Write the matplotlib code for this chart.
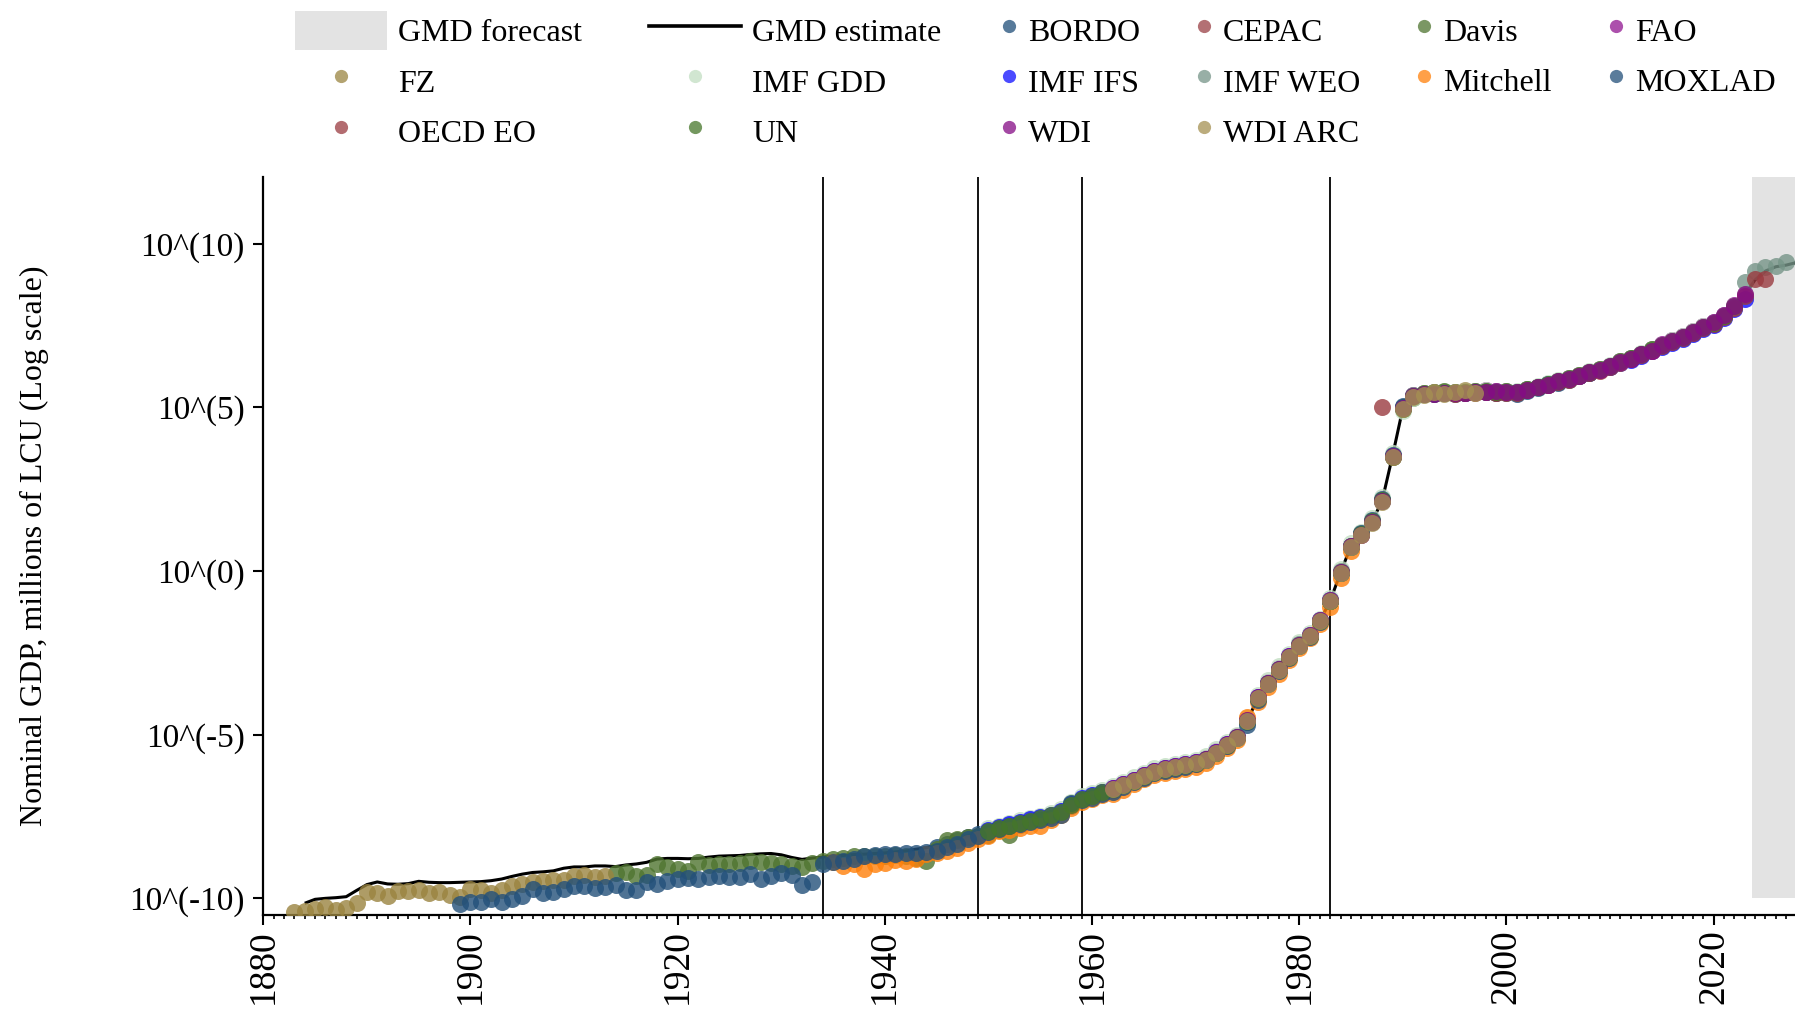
import numpy as np
import matplotlib
matplotlib.use("Agg")
import matplotlib.pyplot as plt
from matplotlib.lines import Line2D
from matplotlib.patches import Patch
from matplotlib.ticker import FixedLocator, MultipleLocator, NullLocator

# ---------------- data (log10 of nominal GDP, millions of LCU) ----------------
gmd_start = 1884
gmd_estimate = [
    -10.15, -10.03, -10.00, -9.98, -9.95, -9.76,
    -9.58, -9.50, -9.56, -9.57, -9.55, -9.48, -9.51, -9.52, -9.52, -9.51,
    -9.50, -9.49, -9.46, -9.41, -9.33, -9.26, -9.21, -9.19, -9.16, -9.08,
    -9.04, -9.04, -9.01, -9.01, -9.03, -8.98, -8.95, -8.90, -8.80, -8.78,
    -8.78, -8.79, -8.78, -8.74, -8.71, -8.70, -8.69, -8.66, -8.64, -8.63,
    -8.67, -8.75, -8.81, -8.77, -8.74, -8.71, -8.69, -8.66, -8.65, -8.63,
    -8.61, -8.58, -8.55, -8.50, -8.45, -8.38, -8.28, -8.18, -8.08, -7.98,
    -7.90, -7.80, -7.73, -7.66, -7.59, -7.52, -7.45, -7.36, -7.15, -6.93,
    -6.84, -6.74, -6.64, -6.52, -6.38, -6.24, -6.12, -6.04, -5.98, -5.92,
    -5.85, -5.74, -5.54, -5.30, -5.07, -4.57, -3.87, -3.42, -3.00, -2.62,
    -2.27, -1.97, -1.52, -0.90, -0.03, 0.77, 1.12, 1.50, 2.15, 3.52,
    4.98, 5.36, 5.42, 5.44, 5.45, 5.45, 5.46, 5.48, 5.49, 5.47,
    5.48, 5.47, 5.55, 5.63, 5.72, 5.80, 5.88, 5.97, 6.07, 6.15,
    6.27, 6.40, 6.50, 6.62, 6.77, 6.90, 7.03, 7.15, 7.30, 7.46,
    7.58, 7.80, 8.08, 8.45, 8.90, 9.17, 9.30, 9.35, 9.43,
]

bordo_start = 1945
bordo = [
    -8.42, -8.33, -8.22, -8.12, -8.02,
    -7.93, -7.84, -7.76, -7.70, -7.62, -7.56, -7.48, -7.36, -7.18, -6.96,
    -6.86, -6.78, -6.68, -6.55, -6.42, -6.28, -6.15, -6.08, -6.01, -5.95,
    -5.88, -5.76, -5.57, -5.33, -5.08, -4.60, -3.88, -3.42, -3.00, -2.62,
    -2.27, -1.97, -1.52, -0.90, -0.03, 0.76, 1.13, 1.52, 2.17, 3.56,
    5.02, 5.33, 5.40, 5.43, 5.44, 5.44,
]

cepac_start = 1950
cepac = [
    -7.93, -7.83, -7.76, -7.68, -7.61, -7.54, -7.45, -7.33, -7.14, -6.95,
    -6.85, -6.75, -6.65, -6.52, -6.38, -6.24, -6.12, -6.04, -5.98, -5.92,
    -5.85, -5.74, -5.54, -5.30, -5.07, -4.57, -3.87, -3.42, -3.00, -2.62,
    -2.27, -1.97, -1.52, -0.90, -0.04, 0.76, 1.11, 1.49, 2.14, 3.50,
    4.96, 5.36, 5.40, 5.42, 5.43, 5.43, 5.44, 5.46, 5.47, 5.45,
    5.46, 5.45, 5.53, 5.61, 5.70, 5.78, 5.86, 5.95, 6.05, 6.13,
    6.25, 6.38, 6.48, 6.60, 6.75, 6.88, 7.01, 7.13, 7.28, 7.44,
    7.56, 7.78, 8.06, 8.43,
]

davis_start = 1914
davis = [
    -9.23, -9.20, -9.31, -9.29, -8.96, -9.03,
    -9.10, -9.15, -8.88, -8.98, -8.95, -8.95, -8.92, -8.86, -8.88, -8.92,
    -8.95, -9.02, -9.04, -8.93, -8.85, -8.80, -8.76, -8.72, -8.71, -8.72,
    -8.70, -8.68, -8.72, -8.78, -8.87, -8.50, -8.22, -8.20, -8.12, -8.08,
    -8.05, -7.92, -8.05, -7.75, -7.65, -7.58, -7.48, -7.36, -7.10, -6.95,
    -6.88, -6.76, -6.68, -6.55, -6.40, -6.26, -6.14, -6.05, -6.00, -5.93,
    -5.87, -5.75, -5.55, -5.30, -5.08, -4.60, -3.88, -3.43, -3.02, -2.62,
    -2.28, -1.97, -1.52, -0.90, -0.05, 0.76, 1.15, 1.52, 2.18, 3.54,
    5.00, 5.30, 5.42, 5.45, 5.47, 5.45,
]

fao_start = 1970
fao = [
    -5.82, -5.71, -5.51, -5.27, -5.04, -4.54, -3.84, -3.39, -2.97, -2.59,
    -2.24, -1.94, -1.49, -0.87, -0.01, 0.78, 1.13, 1.51, 2.16, 3.53,
    4.99, 5.37, 5.43, 5.46, 5.47, 5.46, 5.48, 5.50, 5.52, 5.49,
    5.50, 5.48, 5.56, 5.64, 5.73, 5.82, 5.90, 5.99, 6.09, 6.17,
    6.28, 6.41, 6.51, 6.64, 6.79, 6.93, 7.06, 7.18, 7.33, 7.49,
    7.60, 7.82, 8.12,
]

fz_start = 1883
fz = [
    -10.42, -10.40, -10.32, -10.27, -10.36, -10.30, -10.14,
    -9.81, -9.85, -9.93, -9.78, -9.79, -9.76, -9.84, -9.82, -9.89, -9.95,
    -9.71, -9.73, -9.84, -9.76, -9.61, -9.55, -9.51, -9.47, -9.45, -9.43,
    -9.31, -9.28, -9.35, -9.31,
]

imf_gdd_start = 1950
imf_gdd = [
    -7.85, -7.78, -7.70, -7.62, -7.55, -7.48, -7.40, -7.28, -7.05, -6.88,
    -6.78, -6.68, -6.58, -6.45, -6.30, -6.16, -6.02, -5.96, -5.90, -5.84,
    -5.76, -5.64, -5.45, -5.22, -5.00, -4.48, -3.78, -3.32, -2.90, -2.52,
    -2.18, -1.88, -1.45, -0.82, 0.05, 0.85, 1.20, 1.62, 2.25, 3.62,
    4.90, 5.30, 5.44, 5.47, 5.48, 5.47, 5.49, 5.51, 5.52, 5.49,
    5.50, 5.49, 5.57, 5.66, 5.74, 5.83, 5.91, 6.00, 6.10, 6.18,
    6.30, 6.42, 6.52, 6.65, 6.80, 6.92, 7.05, 7.18, 7.33, 7.48,
    7.60, 7.82, 8.10, 8.47,
]

imf_ifs_start = 1950
imf_ifs = [
    -7.90, -7.81, -7.74, -7.66, -7.59, -7.52, -7.44, -7.33, -7.13, -6.93,
    -6.84, -6.74, -6.64, -6.51, -6.37, -6.23, -6.11, -6.03, -5.97, -5.91,
    -5.84, -5.73, -5.53, -5.29, -5.06, -4.56, -3.86, -3.41, -2.99, -2.61,
    -2.26, -1.96, -1.51, -0.89, -0.03, 0.77, 1.12, 1.50, 2.15, 3.52,
    4.98, 5.36, 5.41, 5.43, 5.44, 5.44, 5.45, 5.47, 5.48, 5.46,
    5.47, 5.46, 5.54, 5.62, 5.71, 5.79, 5.87, 5.96, 6.06, 6.14,
    6.24, 6.36, 6.46, 6.58, 6.72, 6.85, 6.98, 7.10, 7.25, 7.40,
    7.52, 7.74, 8.02, 8.30,
]

imf_weo_start = 1980
imf_weo = [
    -2.24, -1.94, -1.49, -0.87, -0.01, 0.78, 1.13, 1.51, 2.16, 3.53,
    4.97, 5.37, 5.42, 5.44, 5.45, 5.45, 5.46, 5.48, 5.49, 5.47,
    5.48, 5.47, 5.55, 5.63, 5.72, 5.80, 5.88, 5.97, 6.07, 6.15,
    6.27, 6.40, 6.50, 6.62, 6.77, 6.90, 7.03, 7.15, 7.30, 7.46,
    7.58, 7.80, 8.08, 8.84, 9.17, 9.30, 9.33, 9.45,
]

mitchell_start = 1935
mitchell = [
    -8.88, -9.02, -8.95, -9.10, -8.95,
    -8.92, -8.82, -8.87, -8.80, -8.66, -8.60, -8.56, -8.45, -8.32, -8.20,
    -8.10, -7.95, -7.92, -7.85, -7.80, -7.78, -7.60, -7.44, -7.25, -7.05,
    -6.95, -6.85, -6.80, -6.70, -6.50, -6.35, -6.22, -6.18, -6.10, -6.05,
    -5.98, -5.85, -5.65, -5.40, -5.15, -4.45, -4.00, -3.55, -3.15, -2.72,
    -2.35, -2.05, -1.62, -1.10, -0.20, 0.62,
]

moxlad_start = 1899
moxlad = [
    -10.17,
    -10.10, -10.12, -10.02, -10.12, -10.01, -9.92, -9.72, -9.84, -9.82, -9.70,
    -9.61, -9.63, -9.69, -9.66, -9.60, -9.76, -9.74, -9.51, -9.55, -9.48,
    -9.40, -9.38, -9.42, -9.34, -9.31, -9.36, -9.34, -9.26, -9.40, -9.31,
    -9.22, -9.29, -9.58, -9.51, -8.95, -8.90, -8.85, -8.80, -8.72, -8.68,
    -8.66, -8.63, -8.62, -8.60, -8.58, -8.55, -8.42, -8.35, -8.18, -8.10,
    -7.98, -7.88, -7.78, -7.72, -7.66, -7.62, -7.55, -7.45, -7.10, -7.00,
    -6.92, -6.82, -6.74, -6.60, -6.46, -6.32, -6.18, -6.10, -6.05, -6.00,
    -5.90, -5.78, -5.55, -5.35, -5.10, -4.70, -3.95, -3.45, -3.05, -2.65,
    -2.30, -2.00, -1.55, -0.92, -0.05, 0.75, 1.15, 1.55, 2.20, 3.55,
    5.05, 5.35, 5.40, 5.42, 5.43, 5.42, 5.44, 5.46, 5.47, 5.43,
    5.43, 5.41, 5.50, 5.60, 5.68, 5.76, 5.85, 5.95, 6.05,
]

oecd_eo_years = [1988] + list(range(1995, 2026))
oecd_eo = [
    5.00,
    5.42, 5.43, 5.45, 5.46, 5.44,
    5.45, 5.44, 5.52, 5.61, 5.69, 5.78, 5.85, 5.95, 6.04, 6.12,
    6.24, 6.37, 6.47, 6.60, 6.74, 6.87, 7.00, 7.13, 7.27, 7.43,
    7.55, 7.77, 8.05, 8.42, 8.92, 8.92,
]

un_start = 1950
un = [
    -7.95, -7.86, -7.79, -7.70, -7.63, -7.55, -7.46, -7.35, -7.15, -6.96,
    -6.86, -6.76, -6.66, -6.53, -6.40, -6.26, -6.14, -6.05, -5.99, -5.93,
    -5.86, -5.74, -5.55, -5.30, -5.08, -4.58, -3.88, -3.42, -3.00, -2.62,
    -2.27, -1.97, -1.52, -0.90, -0.04, 0.78, 1.14, 1.52, 2.18, 3.50,
    4.96, 5.36, 5.44, 5.46, 5.50, 5.48, 5.47, 5.50, 5.51, 5.48,
    5.49, 5.47, 5.55, 5.64, 5.72, 5.80, 5.89, 5.98, 6.08, 6.16,
    6.28, 6.41, 6.51, 6.63, 6.78, 6.91, 7.04, 7.16, 7.31, 7.47,
    7.59, 7.81, 8.09,
]

wdi_start = 1962
wdi = [
    -6.63, -6.51, -6.37, -6.23, -6.11, -6.03, -5.97, -5.91,
    -5.84, -5.73, -5.53, -5.29, -5.06, -4.56, -3.86, -3.41, -2.99, -2.61,
    -2.26, -1.96, -1.51, -0.89, -0.03, 0.76, 1.11, 1.49, 2.14, 3.51,
    4.97, 5.35, 5.40, 5.42, 5.43, 5.44, 5.45, 5.46, 5.48, 5.50,
    5.48, 5.46, 5.52, 5.62, 5.70, 5.80, 5.87, 5.95, 6.08, 6.14,
    6.26, 6.38, 6.48, 6.62, 6.72, 6.92, 7.03, 7.15, 7.32, 7.45,
    7.60, 7.83, 8.10, 8.47,
]

wdi_arc_start = 1962
wdi_arc = [
    -6.66, -6.54, -6.40, -6.26, -6.14, -6.06, -6.00, -5.94,
    -5.87, -5.76, -5.56, -5.32, -5.09, -4.59, -3.89, -3.44, -3.02, -2.64,
    -2.29, -1.99, -1.54, -0.92, -0.06, 0.74, 1.09, 1.47, 2.12, 3.49,
    4.94, 5.32, 5.38, 5.48, 5.41, 5.46, 5.52, 5.44,
]

event_years = [1934, 1949, 1959, 1983]
y_tick_exponents = [-10, -5, 0, 5, 10]
y_tick_labels = ["10^(-10)", "10^(-5)", "10^(0)", "10^(5)", "10^(10)"]

# ---------------- style ----------------
plt.rcParams["font.family"] = ["Liberation Serif", "DejaVu Serif"]
ALPHA = 0.8
colors = {
    "BORDO": "#1f4e79", "CEPAC": "#9a4045", "Davis": "#4f7530", "FAO": "#901590",
    "FZ": "#9a8440", "IMF GDD": "#c2dec2", "IMF IFS": "#0f0fff", "IMF WEO": "#769588",
    "Mitchell": "#ff800a", "MOXLAD": "#23507a", "OECD EO": "#9a3b40", "UN": "#467629",
    "WDI": "#850a85", "WDI ARC": "#a49052",
}

def yrs(start, vals):
    return np.arange(start, start + len(vals))

sources = [
    ("BORDO", yrs(bordo_start, bordo), bordo),
    ("CEPAC", yrs(cepac_start, cepac), cepac),
    ("Davis", yrs(davis_start, davis), davis),
    ("FAO", yrs(fao_start, fao), fao),
    ("FZ", yrs(fz_start, fz), fz),
    ("IMF GDD", yrs(imf_gdd_start, imf_gdd), imf_gdd),
    ("IMF IFS", yrs(imf_ifs_start, imf_ifs), imf_ifs),
    ("IMF WEO", yrs(imf_weo_start, imf_weo), imf_weo),
    ("Mitchell", yrs(mitchell_start, mitchell), mitchell),
    ("MOXLAD", yrs(moxlad_start, moxlad), moxlad),
    ("OECD EO", np.array(oecd_eo_years), oecd_eo),
    ("UN", yrs(un_start, un), un),
    ("WDI", yrs(wdi_start, wdi), wdi),
    ("WDI ARC", yrs(wdi_arc_start, wdi_arc), wdi_arc),
]

W, H = 1795, 1015
fig = plt.figure(figsize=(W / 100, H / 100), dpi=100)
ax_left, ax_bottom, ax_top = 263.3, 100.3, 177.4
ax = fig.add_axes([ax_left / W, ax_bottom / H, (W - ax_left) / W, (H - ax_bottom - ax_top) / H])

ylo, yhi = -10.5, 12.03
ax.set_yscale("log")
ax.set_ylim(10 ** ylo, 10 ** yhi)
ax.set_xlim(1880, 2027.85)

# forecast shading
ax.axvspan(2023.7, 2035, ymin=(-10 - ylo) / (yhi - ylo), ymax=1,
           color="#e3e3e3", lw=0, zorder=0)

for ey in event_years:
    ax.axvline(ey, color="black", lw=1.3, zorder=1)

gy = yrs(gmd_start, gmd_estimate)
ax.plot(gy, 10 ** np.array(gmd_estimate), color="black", lw=2.2, zorder=2,
        solid_capstyle="butt")

for name, xs, vals in sources:
    ax.scatter(xs, 10 ** np.array(vals), s=150, color=colors[name], alpha=ALPHA,
               linewidths=0, zorder=3)

# axes styling
for side in ("top", "right"):
    ax.spines[side].set_visible(False)
for side in ("left", "bottom"):
    ax.spines[side].set_linewidth(1.6)

ax.yaxis.set_major_locator(FixedLocator([10.0 ** e for e in y_tick_exponents]))
ax.yaxis.set_minor_locator(NullLocator())
ax.set_yticklabels(y_tick_labels)
ax.xaxis.set_major_locator(MultipleLocator(20))
ax.xaxis.set_minor_locator(MultipleLocator(1))
ax.tick_params(axis="y", which="major", length=7.5, width=1.5, pad=6, labelsize=24)
ax.tick_params(axis="x", which="major", length=7.5, width=1.5, pad=3, labelsize=27,
               labelrotation=90)
ax.tick_params(axis="x", which="minor", length=3, width=1.2)

ax.set_ylabel("Nominal GDP, millions of LCU (Log scale)", fontsize=23)
ax.yaxis.set_label_coords(-0.140, 0.5)

# legends
def dot(name):
    return Line2D([], [], linestyle="none", marker="o", markersize=9.5,
                  markerfacecolor=colors[name], markeredgewidth=0, alpha=0.75)

hA = [Patch(facecolor="#e3e3e3", edgecolor="none"), dot("FZ"), dot("OECD EO"),
      Line2D([], [], color="black", lw=2.6), dot("IMF GDD"), dot("UN")]
lA = ["GMD forecast", "FZ", "OECD EO", "GMD estimate", "IMF GDD", "UN"]
fig.legend(hA, lA, ncol=2, loc="upper left", bbox_to_anchor=(295.3 / W, 1 - 11 / H),
           frameon=False, fontsize=23, handlelength=2.87, handleheight=1.5,
           handletextpad=0.36, columnspacing=2.09, labelspacing=0.36,
           borderpad=0, borderaxespad=0)

orderB = ["BORDO", "IMF IFS", "WDI", "CEPAC", "IMF WEO", "WDI ARC",
          "Davis", "Mitchell", "FAO", "MOXLAD"]
fig.legend([dot(n) for n in orderB], orderB, ncol=4, loc="upper left",
           bbox_to_anchor=(995.8 / W, 1 - 11 / H), frameon=False, fontsize=23,
           handlelength=0.8, handleheight=1.5, handletextpad=0.2,
           columnspacing=1.6, labelspacing=0.36, borderpad=0, borderaxespad=0)

fig.savefig("out.png", dpi=100)
